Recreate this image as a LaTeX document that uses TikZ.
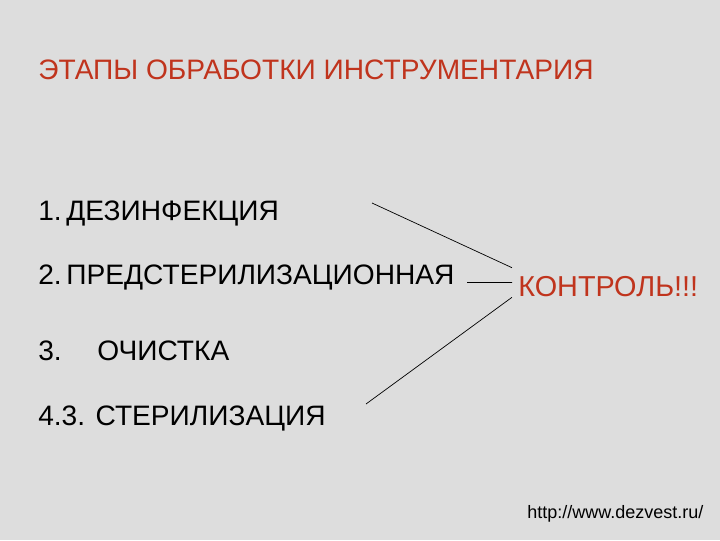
\documentclass[tikz,border=0pt]{standalone}
\usepackage{fontspec}
\setmainfont{Liberation Sans}
\definecolor{fon}{HTML}{DDDDDD}
\definecolor{krasn}{HTML}{C0341D}
\begin{document}
\begin{tikzpicture}[x=0.025cm, y=-0.025cm,
    punkt/.style={anchor=base west, inner sep=0pt, font=\fontsize{20}{24}\selectfont},
    linia/.style={black, line width=0.5pt}]
    % Фон
    \fill[fon] (0,0) rectangle (720,540);

    % Заголовок
    \node[punkt, text=krasn] (zagolovok) at (38,79) {ЭТАПЫ ОБРАБОТКИ ИНСТРУМЕНТАРИЯ};

    % Этапы
    \foreach \y/\imya/\tekst in {220/etap1/{1.\,ДЕЗИНФЕКЦИЯ},
                                 284/etap2/{2.\,ПРЕДСТЕРИЛИЗАЦИОННАЯ},
                                 360/etap3/{\makebox[1.475cm][l]{3.}ОЧИСТКА},
                                 425/etap4/{4.3. СТЕРИЛИЗАЦИЯ}} {
        \node[punkt] (\imya) at (38,\y) {\tekst};
    }

    % Контроль
    \node[punkt, text=krasn, font=\fontsize{20.5}{24}\selectfont, inner xsep=0.15cm, text height=0.7cm, text depth=0.025cm] (kontrol) at (512,296) {КОНТРОЛЬ!!!};

    \coordinate (n1) at (372,203);
    \coordinate (n2) at (467,282.5);
    \coordinate (n3) at (366,404);
    \draw[linia] (n1) -- (kontrol.north west);
    \draw[linia] (n2) -- (kontrol.west);
    \draw[linia] (n3) -- (kontrol.south west);

    % Ссылка
    \node[punkt, font=\fontsize{12.8}{15}\selectfont] (ssylka) at (527,518) {http://www.dezvest.ru/};
\end{tikzpicture}
\end{document}
